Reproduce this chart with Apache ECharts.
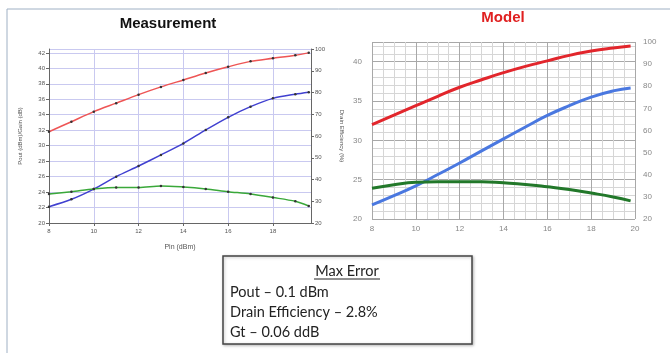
<!DOCTYPE html>
<html>
<head>
<meta charset="utf-8">
<script src="https://cdn.jsdelivr.net/npm/echarts@6/dist/echarts.min.js"></script>
<style>
  html, body { margin: 0; padding: 0; background: #fff; }
  #main { width: 670px; height: 353px; }
</style>
</head>
<body>
<div id="main"></div>
<script>
// measurement (left panel)
const measPin = [8, 9, 10, 11, 12, 13, 14, 15, 16, 17, 18, 19, 19.6];
const measPout = [31.8, 33.1, 34.4, 35.5, 36.6, 37.6, 38.5, 39.4, 40.2, 40.9, 41.3, 41.7, 42.0];
const measDE = [27.5, 30.9, 35.6, 41.3, 46.2, 51.3, 56.6, 62.8, 68.6, 73.5, 77.3, 79.2, 80.1];
const measGain = [23.75, 24.05, 24.4, 24.6, 24.6, 24.8, 24.65, 24.4, 24.05, 23.75, 23.3, 22.8, 22.2];

// model (right panel)
const modelPin = [8, 9, 10, 11, 12, 13, 14, 15, 16, 17, 18, 19, 19.8];
const modelPout = [32.0, 33.2, 34.4, 35.6, 36.75, 37.7, 38.6, 39.4, 40.1, 40.8, 41.35, 41.75, 42.0];
const modelDE = [26.4, 30.6, 35.0, 40.1, 45.3, 50.8, 56.2, 61.6, 66.8, 71.2, 75.1, 77.9, 79.2];
const modelGain = [23.9, 24.35, 24.67, 24.75, 24.75, 24.75, 24.6, 24.4, 24.1, 23.75, 23.3, 22.8, 22.3];

const maxErrorLines = ['Pout \u2013 0.1 dBm', 'Drain Efficiency \u2013 2.8%', 'Gt \u2013 0.06 ddB'];

const pair = (xs, ys) => xs.map((x, i) => [x, ys[i]]);

const chart = echarts.init(document.getElementById('main'));

const measLabel = { fontSize: 6, color: '#555', fontFamily: 'Liberation Sans' };
const modelLabel = { fontSize: 8, color: '#888', fontFamily: 'Liberation Sans' };

const measSeries = (name, ys, color, yIdx) => ({
    type: 'line',
    name: name,
    xAxisIndex: 0,
    yAxisIndex: yIdx,
    data: pair(measPin, ys),
    smooth: 0.3,
    symbol: 'circle',
    symbolSize: 2.5,
    itemStyle: { color: '#333' },
    lineStyle: { color: color, width: 1.5 },
    z: 3
});

const modelSeries = (name, ys, color, yIdx) => ({
    type: 'line',
    name: name,
    xAxisIndex: 1,
    yAxisIndex: yIdx,
    data: pair(modelPin, ys),
    smooth: true,
    showSymbol: false,
    lineStyle: { color: color, width: 3 },
    z: 3
});

const option = {
    animation: false,
    grid: [
        { left: 49, top: 49, width: 262, height: 174 },
        { left: 372, top: 42, width: 263, height: 177 }
    ],
    xAxis: [
        {
            gridIndex: 0, type: 'value', min: 8, max: 19.7, interval: 2,
            name: 'Pin (dBm)', nameLocation: 'middle', nameGap: 21,
            nameTextStyle: { fontSize: 7, color: '#555' },
            axisLine: { lineStyle: { color: '#666' } },
            axisTick: { length: 3, lineStyle: { color: '#666' } },
            axisLabel: Object.assign({ margin: 5, showMaxLabel: false }, measLabel),
            splitLine: { lineStyle: { color: '#c9c9f0', width: 1 } }
        },
        {
            gridIndex: 1, type: 'value', min: 8, max: 20, interval: 2,
            axisLine: { show: false },
            axisTick: { show: false },
            axisLabel: Object.assign({ margin: 6 }, modelLabel),
            splitLine: { lineStyle: { color: '#a8a8a8', width: 1 } },
            minorTick: { show: false, splitNumber: 4 },
            minorSplitLine: { show: true, lineStyle: { color: '#d6d6d6', width: 1 } }
        }
    ],
    yAxis: [
        {
            gridIndex: 0, type: 'value', min: 20, max: 42.5, interval: 2,
            name: 'Pout (dBm)/Gain (dB)', nameLocation: 'middle', nameGap: 26,
            nameTextStyle: { fontSize: 6, color: '#555' },
            axisLine: { show: true, lineStyle: { color: '#666' } },
            axisTick: { show: true, length: 3, lineStyle: { color: '#666' } },
            axisLabel: Object.assign({ margin: 4, showMaxLabel: false }, measLabel),
            splitLine: { lineStyle: { color: '#c9c9f0', width: 1 } }
        },
        {
            gridIndex: 0, type: 'value', position: 'right', min: 20, max: 100, interval: 10,
            name: 'Drain Efficiency (%)', nameLocation: 'middle', nameGap: 28, nameRotate: -90,
            nameTextStyle: { fontSize: 6, color: '#555' },
            axisLine: { show: true, lineStyle: { color: '#666' } },
            axisTick: { show: true, length: 3, lineStyle: { color: '#666' } },
            axisLabel: Object.assign({ margin: 4 }, measLabel),
            splitLine: { show: false }
        },
        {
            gridIndex: 1, type: 'value', min: 20, max: 42.5, interval: 5,
            axisLine: { show: false },
            axisTick: { show: false },
            axisLabel: Object.assign({ margin: 10, showMaxLabel: false }, modelLabel),
            splitLine: { lineStyle: { color: '#a8a8a8', width: 1 } },
            minorTick: { show: false, splitNumber: 5 },
            minorSplitLine: { show: true, lineStyle: { color: '#d6d6d6', width: 1 } }
        },
        {
            gridIndex: 1, type: 'value', position: 'right', min: 20, max: 100, interval: 10,
            axisLine: { show: false },
            axisTick: { show: false },
            axisLabel: Object.assign({ margin: 8 }, modelLabel),
            splitLine: { show: false }
        }
    ],
    series: [
        measSeries('Pout', measPout, '#ee5555', 0),
        measSeries('Drain Efficiency', measDE, '#4040d0', 1),
        measSeries('Gain', measGain, '#3aa83a', 0),
        modelSeries('Pout', modelPout, '#e2262c', 2),
        modelSeries('Drain Efficiency', modelDE, '#4a78e0', 3),
        modelSeries('Gain', modelGain, '#22782a', 2)
    ],
    graphic: [
        // slide frame
        { type: 'line', shape: { x1: 7, y1: 9, x2: 670, y2: 9 }, style: { stroke: '#9fb0c4', lineWidth: 1 } },
        { type: 'line', shape: { x1: 7, y1: 9, x2: 7, y2: 353 }, style: { stroke: '#9fb0c4', lineWidth: 1 } },
        // titles
        { type: 'text', x: 168, y: 24, style: { text: 'Measurement', font: 'bold 15px "Liberation Sans"', fill: '#111', align: 'center', verticalAlign: 'middle' } },
        { type: 'text', x: 503, y: 18, style: { text: 'Model', font: 'bold 15px "Liberation Sans"', fill: '#e02020', align: 'center', verticalAlign: 'middle' } },
        // max error box
        { type: 'rect', shape: { x: 223, y: 256, width: 249, height: 88 }, style: { fill: '#fff', stroke: '#444', lineWidth: 1.5, shadowBlur: 3, shadowColor: 'rgba(0,0,0,0.25)', shadowOffsetX: 1, shadowOffsetY: 1 } },
        { type: 'text', x: 347, y: 271, style: { text: 'Max Error', font: '14.5px Lato', fill: '#222', align: 'center', verticalAlign: 'middle' } },
        { type: 'line', shape: { x1: 314, y1: 279, x2: 380, y2: 279 }, style: { stroke: '#222', lineWidth: 1 } },
        { type: 'text', x: 230, y: 292, style: { text: maxErrorLines[0], font: '14.5px Lato', fill: '#222', verticalAlign: 'middle' } },
        { type: 'text', x: 230, y: 312, style: { text: maxErrorLines[1], font: '14.5px Lato', fill: '#222', verticalAlign: 'middle' } },
        { type: 'text', x: 230, y: 332, style: { text: maxErrorLines[2], font: '14.5px Lato', fill: '#222', verticalAlign: 'middle' } }
    ]
};

chart.setOption(option);
</script>
</body>
</html>
